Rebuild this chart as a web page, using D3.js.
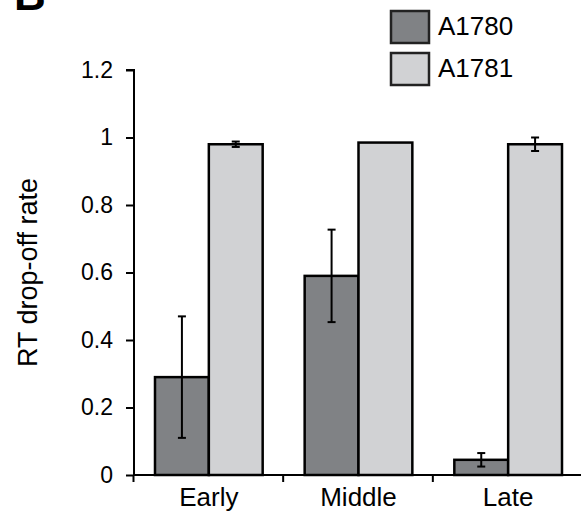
<!DOCTYPE html>
<html>
<head>
    <meta charset="utf-8">
    <script src="https://d3js.org/d3.v7.min.js"></script>
    <style>
        body { margin: 0; background: #fff; }
        text { font-family: "Liberation Sans", Arial, Helvetica, sans-serif; fill: #000; }
    </style>
</head>
<body>
    <script>
        var categories = ["Early", "Middle", "Late"];
        var seriesNames = ["A1780", "A1781"];
        var a1780 = [0.29, 0.59, 0.045];
        var a1780Err = [0.18, 0.137, 0.02];
        var a1781 = [0.98, 0.985, 0.98];
        var a1781Err = [0.008, 0, 0.02];
        var yTicks = [0, 0.2, 0.4, 0.6, 0.8, 1, 1.2];
        var colors = ["#808285", "#d1d2d4"];

        var width = 581, height = 517;
        var margin = {left: 134, right: -2, top: 70, bottom: 42};

        var svg = d3.select("body").append("svg")
            .attr("width", width)
            .attr("height", height);

        var x = d3.scaleBand()
            .domain(categories)
            .range([margin.left, width - margin.right])
            .paddingInner(0)
            .paddingOuter(0);

        var xInner = d3.scaleBand()
            .domain(seriesNames)
            .range([0, x.bandwidth()])
            .paddingOuter(0.39)
            .paddingInner(0);

        var y = d3.scaleLinear()
            .domain([0, 1.2])
            .range([height - margin.bottom, margin.top]);

        var rows = categories.map(function(c, i) {
            return [
                {cat: c, s: 0, v: a1780[i], e: a1780Err[i]},
                {cat: c, s: 1, v: a1781[i], e: a1781Err[i]}
            ];
        });

        var groups = svg.append("g").selectAll("g")
            .data(rows)
            .enter().append("g")
            .attr("transform", d => "translate(" + x(d[0].cat) + ",0)");

        groups.selectAll("rect")
            .data(d => d)
            .enter().append("rect")
            .attr("x", d => xInner(seriesNames[d.s]))
            .attr("width", xInner.bandwidth())
            .attr("y", d => y(d.v))
            .attr("height", d => y(0) - y(d.v))
            .style("fill", d => colors[d.s])
            .style("stroke", "#000")
            .style("stroke-width", 2.5);

        // error bars
        var err = groups.selectAll("g.err")
            .data(d => d.filter(b => b.e > 0))
            .enter().append("g")
            .attr("class", "err")
            .attr("transform", d => "translate(" + (xInner(seriesNames[d.s]) + xInner.bandwidth() / 2) + ",0)");

        err.append("line")
            .attr("y1", d => y(d.v - d.e))
            .attr("y2", d => y(d.v + d.e))
            .style("stroke", "#000").style("stroke-width", 2);
        err.selectAll("line.cap")
            .data(d => [d.v - d.e, d.v + d.e])
            .enter().append("line")
            .attr("class", "cap")
            .attr("x1", -4).attr("x2", 4)
            .attr("y1", d => y(d)).attr("y2", d => y(d))
            .style("stroke", "#000").style("stroke-width", 2);

        // y axis
        var yAxis = svg.append("g")
            .attr("transform", "translate(" + margin.left + ",0)")
            .call(d3.axisLeft(y).tickValues(yTicks).tickSize(8).tickPadding(13)
                .tickFormat(d => d3.format("")(+d.toFixed(1))));
        yAxis.select(".domain").attr("d", "M-8," + y(1.2) + "H0V" + y(0));
        yAxis.selectAll("line, path").style("stroke", "#000").style("stroke-width", 2);
        yAxis.selectAll("text").style("font-size", "23px");

        // x axis
        var xAxis = svg.append("g")
            .attr("transform", "translate(0," + y(0) + ")")
            .call(d3.axisBottom(x).tickSize(0).tickPadding(13));
        xAxis.select(".domain").attr("d", "M" + margin.left + ",0H" + width);
        xAxis.selectAll("line, path").style("stroke", "#000").style("stroke-width", 2);
        xAxis.selectAll("text").style("font-size", "26px");
        xAxis.selectAll("line.sep")
            .data(categories)
            .enter().append("line")
            .attr("class", "sep")
            .attr("x1", d => x(d) - 0.5).attr("x2", d => x(d) - 0.5)
            .attr("y1", 0).attr("y2", 7)
            .style("stroke", "#000").style("stroke-width", 2);

        // y label
        svg.append("text")
            .attr("transform", "translate(37," + ((y(0) + y(1.2)) / 2) + ") rotate(-90)")
            .attr("text-anchor", "middle")
            .style("font-size", "27px")
            .text("RT drop-off rate");

        // legend
        var legend = svg.append("g").selectAll("g")
            .data(seriesNames)
            .enter().append("g")
            .attr("transform", (d, i) => "translate(391," + (11 + i * 42) + ")");
        legend.append("rect")
            .attr("width", 38).attr("height", 32)
            .style("fill", (d, i) => colors[i])
            .style("stroke", "#222").style("stroke-width", 2.5);
        legend.append("text")
            .attr("x", 47).attr("y", 24)
            .style("font-size", "26px")
            .text(d => d);

        // panel letter
        svg.append("text")
            .attr("x", 14).attr("y", 10)
            .style("font-size", "44px")
            .style("font-weight", "bold")
            .text("B");
    </script>
</body>
</html>
